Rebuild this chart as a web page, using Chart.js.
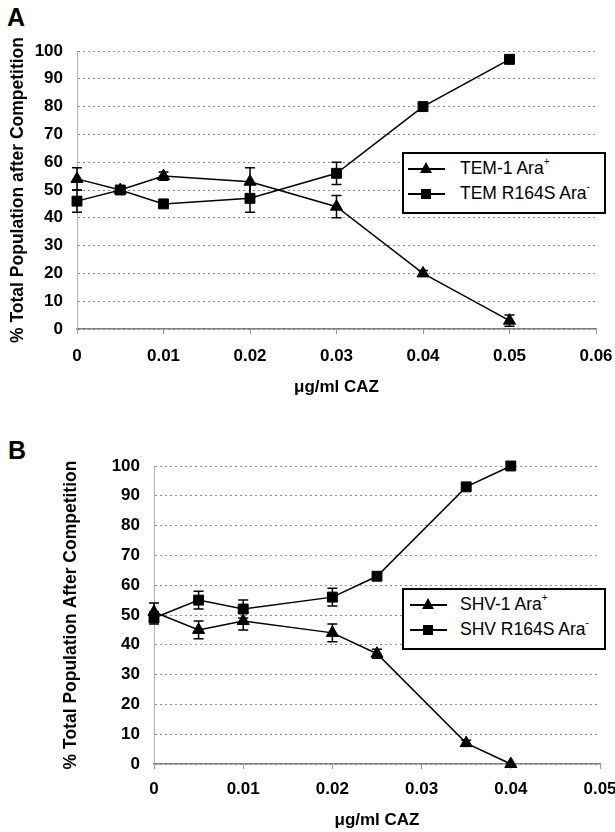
<!DOCTYPE html>
<html>
<head>
<meta charset="utf-8">
<script src="https://cdn.jsdelivr.net/npm/chart.js@4.4.1/dist/chart.umd.min.js"></script>
<style>
  body { margin: 0; background: #fff; width: 615px; height: 832px; position: relative; overflow: hidden; font-family: "Liberation Sans", Arial, sans-serif; }
  canvas { position: absolute; left: 0; }
  .panel { position: absolute; font-weight: bold; font-size: 25px; color: #000; }
  .legend { position: absolute; width: 200px; height: 58px; border: 2px solid #000; background: #fff; font-size: 17.5px; color: #000; }
  .row { position: absolute; left: 0; height: 20px; width: 200px; }
  .sample { position: absolute; height: 1.5px; background: #000; top: 9px; }
  .tri { position: absolute; width: 0; height: 0; border-left: 6px solid transparent; border-right: 6px solid transparent; border-bottom: 11px solid #000; top: 3px; }
  .sq { position: absolute; width: 10px; height: 10px; background: #000; top: 5px; }
  .lbl { position: absolute; left: 56px; top: -1px; white-space: nowrap; }
  .lbl sup { font-size: 10px; position: relative; top: -2px; }
</style>
</head>
<body>
<div class="panel" style="left:7px; top:3px;">A</div>
<div class="panel" style="left:8px; top:436px;">B</div>
<canvas id="chartA" width="615" height="410" style="top:0"></canvas>
<canvas id="chartB" width="615" height="422" style="top:410px"></canvas>

<div class="legend" id="legendA" style="left:402px; top:152px;"></div>
<div class="legend" id="legendB" style="left:402px; top:588px;"></div>

<script>
// Panel A data (TEM)
const xA = [0, 0.005, 0.01, 0.02, 0.03, 0.04, 0.05];
const tem1 = [54, 50, 55, 53, 44, 20, 3];
const tem1Err = [4, 1, 1.5, 5, 4, 1, 2];
const temR164S = [46, 50, 45, 47, 56, 80, 97];
const temR164SErr = [4, 1, 0, 5, 4, 0, 1.5];
const xTicksA = [0, 0.01, 0.02, 0.03, 0.04, 0.05, 0.06];

// Panel B data (SHV)
const xB = [0, 0.005, 0.01, 0.02, 0.025, 0.035, 0.04];
const shv1 = [51, 45, 48, 44, 37, 7, 0];
const shv1Err = [3, 3, 3, 3, 1.5, 1, 0];
const shvR164S = [49, 55, 52, 56, 63, 93, 100];
const shvR164SErr = [2, 3, 3, 3, 1, 1, 0];
const xTicksB = [0, 0.01, 0.02, 0.03, 0.04, 0.05];

const yTicks = [0, 10, 20, 30, 40, 50, 60, 70, 80, 90, 100];

const seriesA = [
  { name: "TEM-1 Ara", sup: "+", marker: "triangle", y: tem1, err: tem1Err },
  { name: "TEM R164S Ara", sup: "-", marker: "rect", y: temR164S, err: temR164SErr }
];
const seriesB = [
  { name: "SHV-1 Ara", sup: "+", marker: "triangle", y: shv1, err: shv1Err },
  { name: "SHV R164S Ara", sup: "-", marker: "rect", y: shvR164S, err: shvR164SErr }
];

// error bars drawn from the y scale
const errorBars = {
  id: "errorBars",
  afterDatasetsDraw(chart) {
    const ctx = chart.ctx;
    const ys = chart.scales.y;
    ctx.save();
    ctx.strokeStyle = "#000";
    ctx.lineWidth = 1.5;
    chart.data.datasets.forEach((ds, di) => {
      const meta = chart.getDatasetMeta(di);
      ds.errors.forEach((e, i) => {
        if (!e) return;
        const pt = meta.data[i];
        const v = ds.data[i].y;
        const top = ys.getPixelForValue(v + e);
        const bot = ys.getPixelForValue(v - e);
        ctx.beginPath();
        ctx.moveTo(pt.x, top); ctx.lineTo(pt.x, bot);
        ctx.moveTo(pt.x - 5, top); ctx.lineTo(pt.x + 5, top);
        ctx.moveTo(pt.x - 5, bot); ctx.lineTo(pt.x + 5, bot);
        ctx.stroke();
      });
    });
    ctx.restore();
  }
};

function fmt(v) {
  return Number(v.toFixed(3)).toString();
}

function makeChart(id, xs, series, xTicks, cfg) {
  const datasets = series.map(s => ({
    label: s.name + s.sup,
    data: xs.map((x, i) => ({ x: x, y: s.y[i] })),
    errors: s.err,
    borderColor: "#000",
    backgroundColor: "#000",
    borderWidth: 1.5,
    pointStyle: s.marker,
    pointRadius: 7,
    pointBorderWidth: 1,
    tension: 0,
    clip: false
  }));

  return new Chart(document.getElementById(id), {
    type: "line",
    data: { datasets },
    plugins: [errorBars],
    options: {
      responsive: false,
      animation: false,
      devicePixelRatio: 1,
      layout: { padding: { left: 0, top: cfg.top, right: 0, bottom: 0 } },
      plugins: { legend: { display: false }, tooltip: { enabled: false } },
      scales: {
        x: {
          type: "linear",
          min: xTicks[0],
          max: xTicks[xTicks.length - 1],
          afterBuildTicks: sc => { sc.ticks = xTicks.map(v => ({ value: v })); },
          afterFit: sc => {
            sc.height = cfg.xHeight;
            sc.paddingLeft = 0;
            sc.paddingRight = cfg.right;
          },
          grid: { drawOnChartArea: false, drawTicks: true, tickLength: 5, color: "#999" },
          border: { color: "#808080", width: 1.5 },
          ticks: { color: "#000", padding: cfg.xTickPad, font: { family: "Liberation Sans", size: 17, weight: "bold" }, callback: v => fmt(v) },
          title: { display: true, text: "μg/ml CAZ", color: "#000", padding: { top: 0, bottom: cfg.xTitlePad }, font: { family: "Liberation Sans", size: 17, weight: "bold" } }
        },
        y: {
          min: 0,
          max: 100,
          afterBuildTicks: sc => { sc.ticks = yTicks.map(v => ({ value: v })); },
          afterFit: sc => { sc.width = cfg.yWidth; },
          grid: { color: "#8c8c8c", lineWidth: 1, drawTicks: false },
          border: { color: "#b0b0b0", dash: [2, 3], width: 1 },
          ticks: { color: "#000", padding: 14, font: { family: "Liberation Sans", size: 17, weight: "bold" } },
          title: { display: true, text: cfg.yTitle, color: "#000", padding: { top: cfg.yTitlePad, bottom: 0 }, font: { family: "Liberation Sans", size: 17.5, weight: "bold" } }
        }
      }
    }
  });
}

makeChart("chartA", xA, seriesA, xTicksA, {
  top: 51, right: 19, xHeight: 81, xTickPad: 12.5, xTitlePad: 12.8, yWidth: 77, yTitlePad: 8,
  yTitle: "% Total Population after Competition"
});
makeChart("chartB", xB, seriesB, xTicksB, {
  top: 56, right: 15, xHeight: 68, xTickPad: 10.5, xTitlePad: 1.8, yWidth: 154, yTitlePad: 61,
  yTitle: "% Total Population After Competition"
});

// HTML legends with superscripts
function buildLegend(elId, series, sampleLeft) {
  const el = document.getElementById(elId);
  series.forEach((s, i) => {
    const row = document.createElement("div");
    row.className = "row";
    row.style.top = (5 + i * 25) + "px";
    const line = document.createElement("div");
    line.className = "sample";
    line.style.left = sampleLeft + "px";
    line.style.width = "37px";
    row.appendChild(line);
    const mk = document.createElement("div");
    mk.className = s.marker === "rect" ? "sq" : "tri";
    mk.style.left = (sampleLeft + 18 - (s.marker === "rect" ? 5 : 6)) + "px";
    row.appendChild(mk);
    const lbl = document.createElement("div");
    lbl.className = "lbl";
    lbl.innerHTML = s.name + "<sup>" + s.sup + "</sup>";
    row.appendChild(lbl);
    el.appendChild(row);
  });
}
buildLegend("legendA", seriesA, 4);
buildLegend("legendB", seriesB, 6);
</script>
</body>
</html>
